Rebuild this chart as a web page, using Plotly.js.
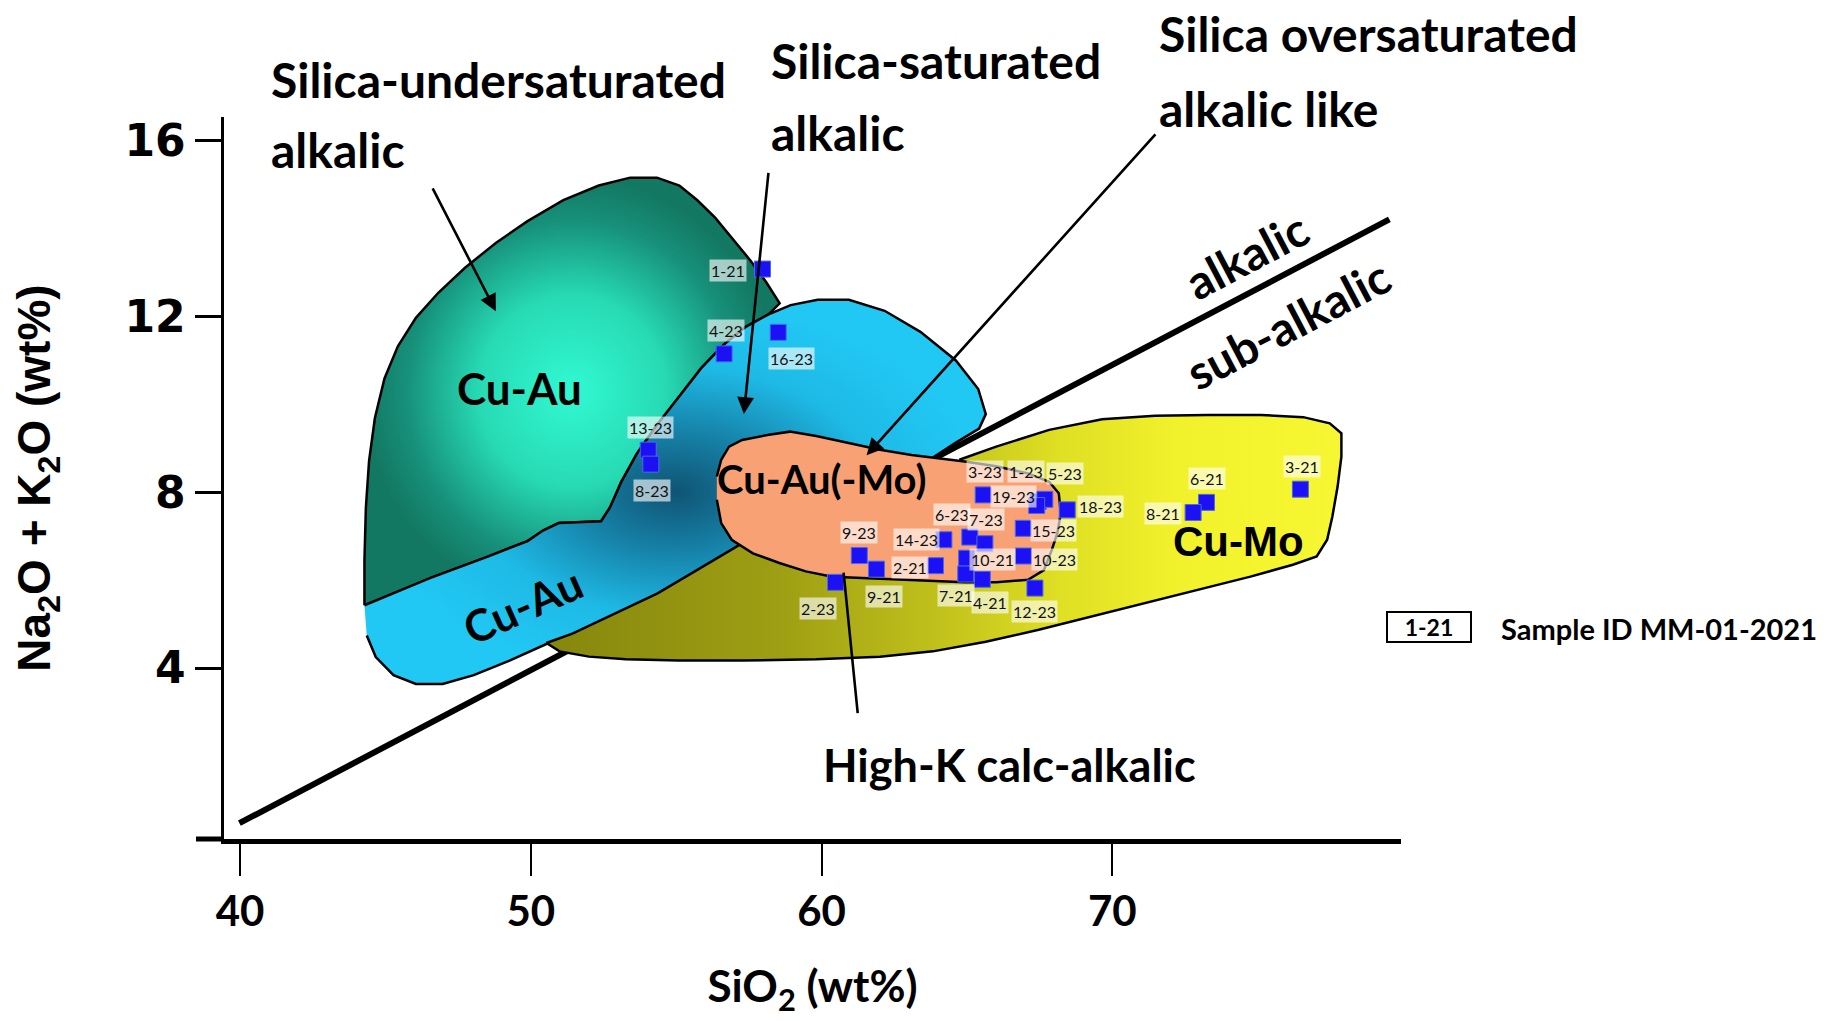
<!DOCTYPE html>
<html>
<head>
<meta charset="utf-8">
<script src="https://cdn.plot.ly/plotly-3.0.1.min.js"></script>
<style>
  html, body { margin: 0; padding: 0; background: #ffffff; }
  #plot { width: 1831px; height: 1021px; }
</style>
</head>
<body>
<div id="plot"></div>
<script>
// ---- Sample compositions (wt%) ----
const sampleIds = ['1-21','4-23','16-23','13-23','8-23','3-23','1-23','5-23','19-23','18-23','15-23','10-23','12-23',
                   '14-23','6-23','7-23','10-21','2-21','7-21','4-21','9-23','9-21','2-23','6-21','8-21','3-21'];
const sio2 =    [57.97,56.65,58.51,54.04,54.13,65.56,67.45,67.68,67.40,68.45,66.94,66.94,67.34,
                 64.21,65.10,65.62,64.99,63.92,64.96,65.53,61.30,61.89,60.48,73.24,72.78,76.47];
const alkalis = [13.08,11.15,11.64,8.96,8.64,7.94,7.79,7.84,7.70,7.60,7.18,6.55,5.82,
                 6.92,6.98,6.83,6.50,6.33,6.14,6.02,6.56,6.25,5.95,7.77,7.54,8.07];

// ---- Alkalic / sub-alkalic dividing line ----
const dividerSiO2 = [39.98, 79.53];
const dividerAlk  = [0.47, 14.21];

// ---- Porphyry deposit fields ----
// Silica-undersaturated alkalic (Cu-Au)
const underSatX = [44.28,44.28,44.33,44.44,44.64,44.97,45.43,46.05,46.82,47.74,48.81,49.89,51.12,52.34,53.42,54.34,55.11,55.72,
                   56.34,56.95,57.56,58.10,58.56,58.18,57.41,56.64,55.87,55.11,54.34,53.65,53.11,52.73,52.42,50.96,50.42,49.89,48.50,46.51];
const underSatY = [5.43,6.45,7.66,8.72,9.69,10.59,11.32,11.97,12.54,13.11,13.68,14.17,14.65,14.98,15.16,15.16,14.98,14.65,
                   14.25,13.76,13.27,12.78,12.30,12.05,11.77,11.36,10.83,10.18,9.53,8.88,8.23,7.66,7.34,7.30,7.13,6.89,6.53,6.04];
// Silica-saturated alkalic (Cu-Au)
const satX = [44.28,46.51,48.50,49.89,50.42,50.96,52.42,52.73,53.11,53.65,54.34,55.11,55.87,56.64,57.41,58.18,58.94,59.87,60.94,
              62.17,63.40,64.62,65.39,65.65,65.42,64.62,63.86,62.0,58.0,54.2,50.65,49.27,48.04,46.97,46.05,45.28,44.67,44.36];
const satY = [5.43,6.04,6.53,6.89,7.13,7.30,7.34,7.66,8.23,8.88,9.53,10.18,10.83,11.36,11.77,12.05,12.26,12.38,12.38,
              12.13,11.65,11.00,10.35,9.78,9.45,9.13,8.80,8.0,6.8,5.0,4.58,4.17,3.84,3.64,3.64,3.84,4.25,4.74];
// High-K calc-alkalic (Cu-Mo)
const calcAlkX = [64.74,66.01,67.83,69.65,71.47,73.29,75.11,76.57,77.48,77.88,77.88,77.75,77.57,77.39,77.03,76.21,74.75,72.93,
                  71.11,69.29,67.47,65.65,63.83,62.01,59.82,57.27,55.09,53.27,52.00,50.99,50.54,51.45,52.91,54.36,55.64,57.09,60.55];
const calcAlkY = [8.74,9.04,9.42,9.66,9.74,9.76,9.76,9.71,9.57,9.34,8.81,8.13,7.45,6.92,6.54,6.35,6.08,5.78,
                  5.48,5.17,4.87,4.60,4.38,4.26,4.20,4.17,4.17,4.20,4.26,4.38,4.57,4.79,5.25,5.70,6.20,6.77,8.05];
// Silica oversaturated alkalic-like (Cu-Au(-Mo))
const overSatX = [56.40,56.55,56.82,57.27,58.19,58.91,59.82,60.92,62.01,63.10,64.01,64.92,66.01,67.10,67.83,68.16,68.23,
                  68.11,67.92,67.65,67.10,66.01,64.92,63.46,62.37,61.28,60.37,59.46,58.55,57.64,56.91,56.55,56.40];
const overSatY = [8.36,8.74,9.04,9.19,9.31,9.38,9.28,9.12,8.97,8.85,8.78,8.70,8.59,8.43,8.24,7.98,7.52,
                  7.07,6.69,6.23,6.01,5.95,5.95,5.99,6.02,6.05,6.08,6.20,6.39,6.61,6.92,7.30,7.83];

// ---- Pointer lines from field names: tail -> head ----
const pointerUnderSatX = [46.60, 48.80], pointerUnderSatY = [14.95, 12.12];
const pointerSatX      = [58.18, 57.33], pointerSatY      = [15.30, 9.78];
const pointerOverSatX  = [71.53, 61.55], pointerOverSatY  = [16.18, 8.84];
const pointerHighKX    = [61.25, 60.76], pointerHighKY    = [2.94, 6.17];

// ---- Axis ticks ----
const xTicks = [40, 50, 60, 70];
const yTicks = [4, 8, 12, 16];

// label placement around each sample marker, in pixels [dx, dy]
const labelShift = {
  '1-21':[-34,-1], '4-23':[2,23], '16-23':[13,-26], '13-23':[2,23], '8-23':[1,-26],
  '3-23':[2,23], '1-23':[-12,30], '5-23':[20,26], '19-23':[-23,9], '18-23':[33,3],
  '15-23':[30,-2], '10-23':[31,-3], '12-23':[0,-23], '14-23':[-27,0], '6-23':[-18,23],
  '7-23':[1,24], '10-21':[26,-1], '2-21':[-25,-2], '7-21':[-10,-21], '4-21':[8,-23],
  '9-23':[0,23], '9-21':[8,-27], '2-23':[-17,-26], '6-21':[1,24], '8-21':[-30,-1], '3-21':[2,23]
};

const HUMANIST = "Lato, 'Open Sans', sans-serif";
const SANS = "'Liberation Sans', Arial, sans-serif";
const OUTLINE = { color: '#000000', width: 2.5 };

function fieldTrace(x, y, extra) {
  return Object.assign({ x: x, y: y, mode: 'lines', fill: 'toself', hoverinfo: 'skip', line: OUTLINE }, extra);
}

const traces = [
  { // dividing line sits beneath the fields
    x: dividerSiO2, y: dividerAlk, mode: 'lines', hoverinfo: 'skip',
    line: { color: '#000000', width: 6 }
  },
  fieldTrace(underSatX, underSatY, {
    fillgradient: { type: 'radial',
      colorscale: [[0, '#31f9d2'], [0.45, '#27dab4'], [0.8, '#17907a'], [1, '#137862']] } }),
  fieldTrace(satX, satY, {
    fillgradient: { type: 'radial',
      colorscale: [[0, '#0f5474'], [0.3, '#1680a6'], [0.65, '#1ebae6'], [1, '#22c8f4']] } }),
  fieldTrace(calcAlkX, calcAlkY, {
    fillgradient: { type: 'horizontal',
      colorscale: [[0, '#86860e'], [0.3, '#9f9f14'], [0.5, '#c2c21c'], [0.65, '#e0e024'], [0.8, '#f2f22c'], [1, '#f6f632']] } }),
  fieldTrace(overSatX, overSatY, { fillcolor: '#f8a174' }),
  {
    x: sio2, y: alkalis, text: sampleIds, mode: 'markers', hoverinfo: 'text',
    marker: { symbol: 'square', size: 16, color: '#1c10f4', line: { color: '#4a6ae8', width: 1 } }
  }
];

const annotations = [];

// pointer arrows from the field names (drawn under the sample labels)
function pointer(px, py, head) {
  return { x: px[1], y: py[1], ax: px[0], ay: py[0], xref: 'x', yref: 'y', axref: 'x', ayref: 'y',
           text: '', showarrow: true, arrowhead: head, arrowsize: 1.3, arrowwidth: 2.6,
           arrowcolor: '#000000', standoff: 0, startstandoff: 0 };
}
annotations.push(
  pointer(pointerUnderSatX, pointerUnderSatY, 2),
  pointer(pointerSatX, pointerSatY, 2),
  pointer(pointerOverSatX, pointerOverSatY, 2),
  pointer(pointerHighKX, pointerHighKY, 0)
);

// sample labels
sampleIds.forEach((id, i) => {
  const s = labelShift[id];
  annotations.push({
    x: sio2[i], y: alkalis[i], xref: 'x', yref: 'y', text: id, showarrow: false,
    xshift: s[0], yshift: s[1], bgcolor: 'rgba(255,255,255,0.62)', borderpad: 1,
    font: { family: HUMANIST, size: 16, color: '#111111' }
  });
});

const bold = (size, family) => ({ family: family || HUMANIST, size: size, weight: 'bold', color: '#000000' });
function paperText(text, x, y, size, anchor) {
  return { xref: 'paper', yref: 'paper', x: x, y: y, xanchor: anchor || 'left', yanchor: 'middle',
           text: text, showarrow: false, font: bold(size) };
}
function dataText(text, x, y, size, angle, family) {
  return { xref: 'x', yref: 'y', x: x, y: y, xanchor: 'center', yanchor: 'middle',
           text: text, textangle: angle || 0, showarrow: false, font: bold(size, family) };
}

annotations.push(
  // field names above the plot
  paperText('Silica-undersaturated', 0.0382, 1.0526, 48),
  paperText('alkalic', 0.0382, 0.9543, 48),
  paperText('Silica-saturated', 0.463, 1.0789, 48),
  paperText('alkalic', 0.463, 0.9792, 48),
  paperText('Silica oversaturated', 0.7927, 1.1163, 48),
  paperText('alkalic like', 0.7927, 1.0111, 48),
  dataText('High-K calc-alkalic', 66.48, 1.80, 45),
  dataText('alkalic', 74.63, 13.41, 47, -27.7),
  dataText('sub-alkalic', 76.04, 11.82, 47, -27.7),
  // deposit types
  dataText('Cu-Au', 49.62, 10.38, 44),
  dataText('Cu-Au', 49.73, 5.44, 44, -24),
  dataText('Cu-Au(-Mo)', 59.99, 8.30, 40),
  dataText('Cu-Mo', 74.34, 6.87, 42, 0, SANS),
  // key
  { xref: 'paper', yref: 'paper', x: 1.0235, y: 0.294, xanchor: 'center', yanchor: 'middle',
    text: '1-21', showarrow: false, width: 80, height: 26,
    bordercolor: '#000000', borderwidth: 2, borderpad: 1, bgcolor: '#ffffff', font: bold(23) },
  paperText('Sample ID MM-01-2021', 1.0833, 0.2922, 29)
);

const layout = {
  width: 1831, height: 1021,
  margin: { l: 224, r: 430, t: 117, b: 182, pad: 0 },
  paper_bgcolor: '#ffffff', plot_bgcolor: '#ffffff',
  showlegend: false,
  xaxis: {
    range: [39.45, 79.93], tickvals: xTicks, showgrid: false, zeroline: false,
    showline: true, linecolor: '#000000', linewidth: 5,
    ticks: 'outside', ticklen: 32, tickwidth: 2, tickcolor: '#000000',
    ticklabelstandoff: 0,
    tickfont: bold(42),
    title: { text: 'SiO<sub>2</sub> (wt%)', standoff: 38, font: bold(44) }
  },
  yaxis: {
    range: [0.11, 16.54], tickvals: yTicks, showgrid: false, zeroline: false,
    showline: true, linecolor: '#000000', linewidth: 3.5,
    ticks: 'outside', ticklen: 26, tickwidth: 3, tickcolor: '#000000',
    tickfont: bold(44, "'DejaVu Sans', sans-serif"),
    title: { text: 'Na<sub>2</sub>O + K<sub>2</sub>O (wt%)', standoff: 60, font: bold(46, SANS) }
  },
  shapes: [
    { type: 'line', xref: 'paper', yref: 'paper', x0: -0.0238, x1: 0, y0: 0, y1: 0,
      line: { color: '#000000', width: 5 } }
  ],
  annotations: annotations
};

Plotly.newPlot('plot', traces, layout, { displayModeBar: false, staticPlot: true });
</script>
</body>
</html>
